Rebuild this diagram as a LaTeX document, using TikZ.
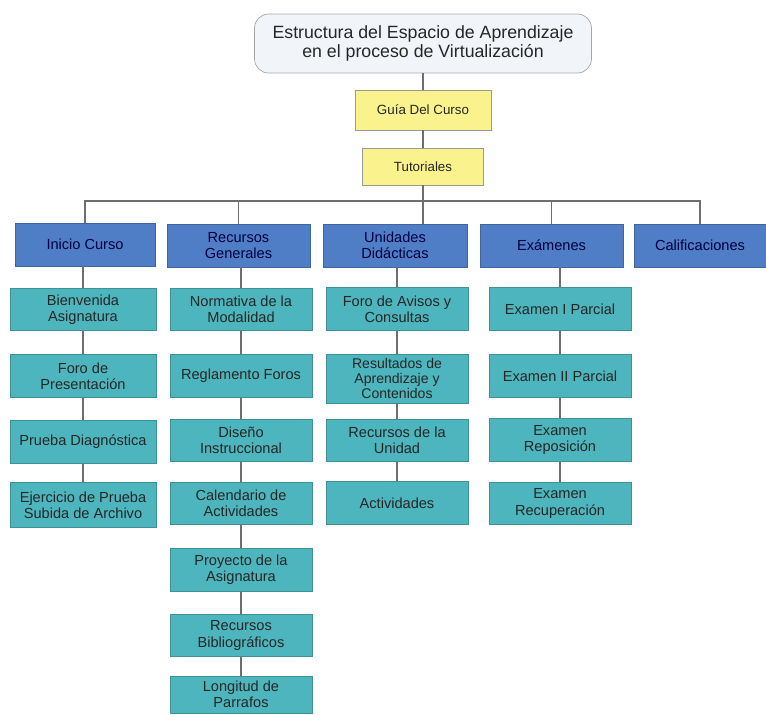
\documentclass[tikz,border=0pt]{standalone}
\usepackage{fontspec}
\setmainfont{Liberation Sans}
\usepackage{xcolor}
\usepackage{tikz}

\definecolor{topblue}{HTML}{4F7EC6}
\definecolor{subteal}{HTML}{4DB5BD}
\definecolor{guideyellow}{HTML}{FAF28C}
\definecolor{titlefill}{HTML}{F1F5FA}
\definecolor{linegray}{HTML}{6E6E6E}

\begin{document}
\begin{tikzpicture}[x=0.02cm, y=-0.02cm,
			box/.style={rectangle, thin, inner sep=1pt, align=center, font=\fontsize{8.3}{9.2}\selectfont},
			titlebox/.style={box, rounded corners=8pt, draw=gray!70, fill=titlefill, text=black!85, minimum width=6.74cm, minimum height=1.18cm, font=\fontsize{10.1}{10.8}\selectfont},
			guidebox/.style={box, fill=guideyellow, draw=gray!80, text=black!85, minimum height=0.8cm, font=\fontsize{7.6}{8.5}\selectfont},
			secbox/.style={box, fill=topblue, draw=topblue!80!black, text=blue!25!black, minimum height=0.86cm},
			itembox/.style={box, fill=subteal, draw=subteal!80!black, text=black!85, minimum width=2.84cm, minimum height=0.85cm},
			link/.style={draw=linegray, line width=0.6pt}
		]
		\useasboundingbox (0,0) rectangle (766,714);

		% Title and guide
		\node[titlebox] (titulo) at (423,43.5) {Estructura del Espacio de Aprendizaje\\en el proceso de Virtualización};
		\node[guidebox, minimum width=2.72cm] (guia) at (423,110) {Guía Del Curso};
		\node[guidebox, minimum width=2.42cm, minimum height=0.74cm] (tutoriales) at (423,166.5) {Tutoriales};

		% Main sections
		\node[secbox, minimum width=2.8cm] (inicio) at (85,244.5) {Inicio Curso};
		\node[secbox, minimum width=2.86cm] (recursos) at (238.5,245.5) {Recursos\\Generales};
		\node[secbox, minimum width=2.88cm] (unidades) at (395,245.5) {Unidades\\Didácticas};
		\node[secbox, minimum width=2.86cm] (examenes) at (551.5,245.5) {Exámenes};
		\node[secbox, minimum width=2.64cm] (calif) at (700,245.5) {Calificaciones};

		% Inicio Curso
		\node[itembox, minimum width=2.92cm] (bienvenida) at (83,309.5) {Bienvenida\\Asignatura};
		\node[itembox, minimum width=2.92cm] (foropres) at (83,376) {Foro de\\Presentación};
		\node[itembox, minimum width=2.92cm] (prueba) at (83,442) {Prueba Diagnóstica};
		\node[itembox, minimum width=2.92cm, minimum height=0.9cm] (ejercicio) at (83,505) {Ejercicio de Prueba\\Subida de Archivo};

		% Recursos Generales
		\node[itembox] (normativa) at (241,309.5) {Normativa de la\\Modalidad};
		\node[itembox] (reglamento) at (241,376) {Reglamento Foros};
		\node[itembox] (diseno) at (241,440.5) {Diseño\\Instruccional};
		\node[itembox] (calendario) at (241,503.5) {Calendario de\\Actividades};
		\node[itembox] (proyecto) at (241,570) {Proyecto de la\\Asignatura};
		\node[itembox] (biblio) at (241,635.5) {Recursos\\Bibliográficos};
		\node[itembox, minimum height=0.74cm] (longitud) at (241,694.5) {Longitud de\\Parrafos};

		% Unidades Didacticas
		\node[itembox] (foroavisos) at (397,309) {Foro de Avisos y\\Consultas};
		\node[itembox, minimum height=0.98cm, font=\fontsize{8}{8.6}\selectfont] (resultados) at (397,378.5) {Resultados de\\Aprendizaje y\\Contenidos};
		\node[itembox] (recunidad) at (397,440.5) {Recursos de la\\Unidad};
		\node[itembox] (actividades) at (397,503) {Actividades};

		% Examenes
		\node[itembox] (parcial1) at (560,309) {Examen I Parcial};
		\node[itembox] (parcial2) at (560,376) {Examen II Parcial};
		\node[itembox] (reposicion) at (560,440) {Examen\\Reposición};
		\node[itembox] (recuperacion) at (560,503.5) {Examen\\Recuperación};

		% Trunk and bus
		\coordinate (bus) at (423,201);
		\draw[link] (titulo) -- (guia);
		\draw[link] (guia) -- (tutoriales);
		\draw[link] (tutoriales.south) -- (tutoriales.south |- unidades.north);
		\draw[link] (inicio.north) |- (calif.north |- bus) -- (calif.north);
		\draw[link] (recursos.north) -- (recursos.north |- bus);
		\draw[link] (examenes.north) -- (examenes.north |- bus);

		% Columns
		\draw[link] (inicio.south -| bienvenida.north) -- (bienvenida.north);
		\draw[link] (bienvenida) -- (foropres) -- (prueba) -- (ejercicio);
		\draw[link] (recursos.south -| normativa.north) -- (normativa.north);
		\draw[link] (normativa) -- (reglamento) -- (diseno) -- (calendario) -- (proyecto) -- (biblio) -- (longitud);
		\draw[link] (unidades.south -| foroavisos.north) -- (foroavisos.north);
		\draw[link] (foroavisos) -- (resultados) -- (recunidad) -- (actividades);
		\draw[link] (examenes.south -| parcial1.north) -- (parcial1.north);
		\draw[link] (parcial1) -- (parcial2) -- (reposicion) -- (recuperacion);

	\end{tikzpicture}
\end{document}
